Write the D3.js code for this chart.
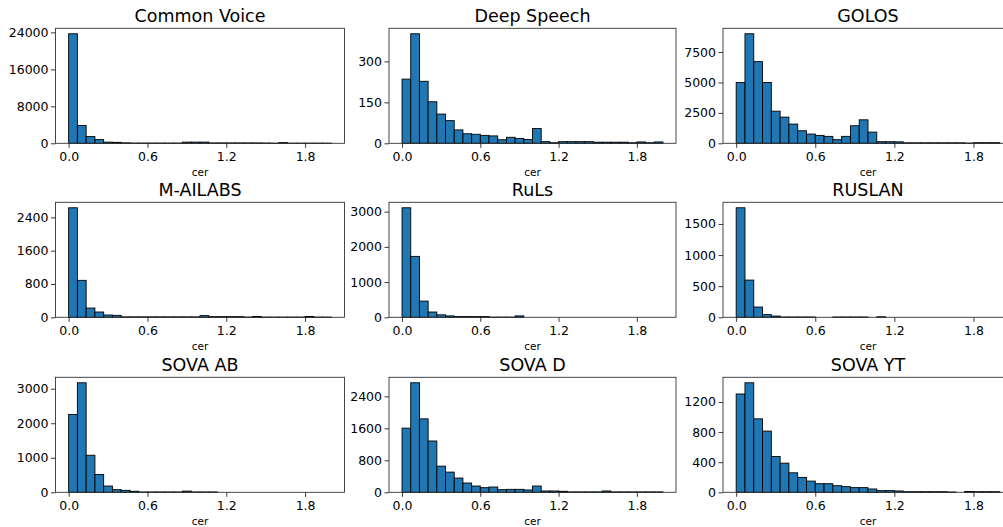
<!DOCTYPE html>
<html lang="en">
<head>
	<meta charset="UTF-8">
	<title>CER histograms</title>
	<script src="https://d3js.org/d3.v7.min.js"></script>
	<style>
		body {
			margin: 0;
			padding: 0;
			background: #fff;
			font-family: "DejaVu Sans", sans-serif;
		}
	</style>
</head>
<body>
	<div id="chart"></div>
	<script>
		// dataset names (panel order, row by row)
		const datasets = ["Common Voice", "Deep Speech", "GOLOS", "M-AILABS", "RuLs", "RUSLAN", "SOVA AB", "SOVA D", "SOVA YT"];

		// counts per bin, 30 bins over cer 0..2
		const commonVoice = [23700, 3850, 1450, 800, 250, 200, 100, 50, 50, 50, 50, 50, 50, 250, 250, 250, 80, 80, 80, 80, 80, 80, 60, 30, 150, 30, 30, 30, 30, 30];
		const deepSpeech = [235, 401, 227, 152, 107, 83, 49, 35, 33, 29, 27, 13, 22, 18, 14, 54, 6, 2, 6, 6, 6, 6, 4, 4, 4, 4, 2, 5, 2, 5];
		const golos = [5000, 9000, 6710, 5000, 2640, 2150, 1580, 1030, 760, 650, 570, 300, 570, 1440, 1930, 920, 130, 130, 120, 40, 40, 40, 40, 40, 40, 40, 20, 50, 50, 50];
		const mAilabs = [2630, 887, 222, 127, 55, 47, 10, 10, 10, 10, 10, 10, 10, 10, 10, 40, 15, 15, 15, 15, 5, 20, 5, 5, 5, 5, 5, 20, 5, 5];
		const ruls = [3110, 1730, 460, 150, 70, 40, 20, 20, 20, 20, 5, 5, 5, 40, 0, 0, 0, 0, 0, 0, 0, 0, 0, 0, 0, 0, 0, 0, 0, 0];
		const ruslan = [1760, 598, 165, 43, 20, 5, 5, 5, 5, 0, 0, 5, 5, 5, 5, 0, 8, 0, 0, 0, 0, 0, 0, 0, 0, 0, 0, 0, 0, 0];
		const sovaAb = [2252, 3172, 1073, 517, 182, 77, 57, 30, 10, 10, 10, 10, 10, 35, 10, 10, 10, 0, 0, 0, 0, 0, 0, 0, 0, 0, 0, 0, 0, 0];
		const sovaD = [1605, 2739, 1837, 1283, 654, 505, 356, 232, 157, 116, 132, 66, 74, 74, 58, 157, 33, 33, 25, 10, 10, 10, 10, 33, 10, 10, 10, 10, 10, 10];
		const sovaYt = [1306, 1455, 976, 813, 475, 387, 259, 198, 149, 114, 114, 88, 75, 62, 62, 44, 22, 22, 18, 8, 8, 8, 8, 8, 4, 0, 10, 8, 8, 8];

		const counts = [commonVoice, deepSpeech, golos, mAilabs, ruls, ruslan, sovaAb, sovaD, sovaYt];

		// tick labels
		const xTicks = [0, 0.6, 1.2, 1.8];
		const yTicks = [
			[0, 8000, 16000, 24000],
			[0, 150, 300],
			[0, 2500, 5000, 7500],
			[0, 800, 1600, 2400],
			[0, 1000, 2000, 3000],
			[0, 500, 1000, 1500],
			[0, 1000, 2000, 3000],
			[0, 800, 1600, 2400],
			[0, 400, 800, 1200]
		];

		const nBins = 30;
		const binEdges = d3.range(nBins + 1).map(i => i * 2 / nBins);

		const width = 1003, height = 527;
		const colLeft = [55.5, 389, 723];
		const colWidth = [289, 287, 290];
		const rowTop = [28.3, 202.3, 377.3];
		const axHeight = 115;

		const svg = d3.select("#chart")
			.append("svg")
			.attr("width", width)
			.attr("height", height);

		datasets.forEach((name, i) => {
			const col = i % 3, row = Math.floor(i / 3);
			const data = counts[i];
			const w = colWidth[col];

			const g = svg.append("g")
				.attr("transform", `translate(${colLeft[col]},${rowTop[row]})`);

			const x = d3.scaleLinear().domain([-0.1, 2.1]).range([0, w]);
			const y = d3.scaleLinear().domain([0, d3.max(data) * 1.05]).range([axHeight, 0]);

			// bars
			g.selectAll("rect")
				.data(data)
				.enter().append("rect")
				.attr("x", (d, j) => x(binEdges[j]))
				.attr("width", (d, j) => x(binEdges[j + 1]) - x(binEdges[j]))
				.attr("y", d => y(d))
				.attr("height", d => axHeight - y(d))
				.attr("fill", "#1f77b4")
				.attr("stroke", "#000")
				.attr("stroke-width", 0.9);

			// axes
			const xAxis = g.append("g")
				.attr("transform", `translate(0,${axHeight})`)
				.call(d3.axisBottom(x).tickValues(xTicks).tickFormat(d3.format(".1f")).tickSizeOuter(0).tickSize(4.5));
			const yAxis = g.append("g")
				.call(d3.axisLeft(y).tickValues(yTicks[i]).tickFormat(d3.format("d")).tickSizeOuter(0).tickSize(4.5));

			[xAxis, yAxis].forEach(a => {
				a.select(".domain").remove();
				a.selectAll("line").attr("stroke", "#222").attr("stroke-width", 0.9);
				a.selectAll("text")
					.attr("fill", "#000")
					.style("font-family", "DejaVu Sans, sans-serif")
					.style("font-size", "12.5px");
			});
			xAxis.selectAll("text").attr("dy", "0.95em").attr("y", 6);
			yAxis.selectAll("text").attr("x", -7);

			// frame
			g.append("rect")
				.attr("x", 0)
				.attr("y", 0)
				.attr("width", w)
				.attr("height", axHeight)
				.attr("fill", "none")
				.attr("stroke", "#333")
				.attr("stroke-width", 0.9);

			// title
			g.append("text")
				.attr("x", w / 2)
				.attr("y", -6.5)
				.attr("text-anchor", "middle")
				.style("font-family", "DejaVu Sans, sans-serif")
				.style("font-size", "17.5px")
				.text(name);

			// x label
			g.append("text")
				.attr("x", w / 2)
				.attr("y", axHeight + 33)
				.attr("text-anchor", "middle")
				.style("font-family", "DejaVu Sans, sans-serif")
				.style("font-size", "10.5px")
				.text("cer");
		});
	</script>
</body>
</html>
